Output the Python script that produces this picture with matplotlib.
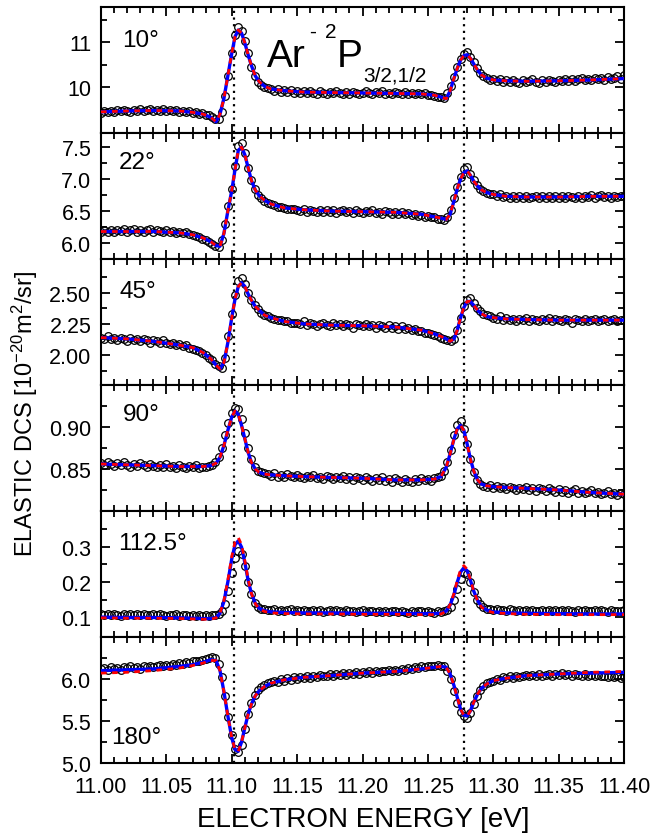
import numpy as np
import matplotlib
matplotlib.use("Agg")
import matplotlib.pyplot as plt
from matplotlib.ticker import FixedLocator, FormatStrFormatter

plt.rcParams['font.family'] = ['Liberation Sans', 'DejaVu Sans']
plt.rcParams['mathtext.fontset'] = 'custom'
plt.rcParams['mathtext.rm'] = 'Liberation Sans'
plt.rcParams['mathtext.it'] = 'Liberation Sans:italic'
plt.rcParams['mathtext.bf'] = 'Liberation Sans:bold'

# ---------------- data ----------------
energy = np.linspace(11.0, 11.4, 161)          # measurement grid [eV], 2.5 meV step
resonance_e = [11.1017, 11.2776]

angles = ["10°", "22°", "45°", "90°", "112.5°", "180°"]

dcs_10 = [
    9.43, 9.47, 9.44, 9.48, 9.45, 9.49, 9.46, 9.50, 9.47, 9.45, 9.50, 9.47, 9.51, 9.46, 9.49, 9.52, 9.47, 9.50, 9.48, 9.51,
    9.46, 9.50, 9.47, 9.49, 9.45, 9.48, 9.44, 9.47, 9.43, 9.45, 9.41, 9.43, 9.39, 9.37, 9.33, 9.30, 9.29, 9.45, 9.80, 10.25,
    10.75, 11.15, 11.34, 11.25, 11.02, 10.75, 10.45, 10.25, 10.12, 10.05, 10.00, 9.97, 9.95, 9.92, 9.95, 9.90, 9.93, 9.89, 9.93, 9.88,
    9.92, 9.87, 9.91, 9.86, 9.92, 9.88, 9.85, 9.91, 9.87, 9.84, 9.90, 9.86, 9.91, 9.87, 9.84, 9.89, 9.85, 9.90, 9.88, 9.84,
    9.88, 9.91, 9.86, 9.84, 9.90, 9.86, 9.91, 9.85, 9.88, 9.84, 9.90, 9.86, 9.84, 9.89, 9.85, 9.87, 9.84, 9.88, 9.84, 9.86,
    9.83, 9.82, 9.80, 9.79, 9.77, 9.76, 9.88, 10.03, 10.22, 10.44, 10.62, 10.74, 10.78, 10.68, 10.55, 10.42, 10.31, 10.24, 10.20, 10.16,
    10.18, 10.14, 10.17, 10.12, 10.15, 10.11, 10.16, 10.12, 10.10, 10.15, 10.11, 10.14, 10.17, 10.12, 10.10, 10.15, 10.12, 10.16, 10.13, 10.11,
    10.16, 10.13, 10.17, 10.14, 10.18, 10.13, 10.17, 10.20, 10.15, 10.19, 10.16, 10.20, 10.17, 10.21, 10.16, 10.22, 10.18, 10.21, 10.24, 10.19,
    10.26]

dcs_22 = [
    6.17, 6.21, 6.18, 6.20, 6.17, 6.21, 6.19, 6.22, 6.18, 6.20, 6.22, 6.18, 6.21, 6.17, 6.20, 6.22, 6.18, 6.21, 6.19, 6.17,
    6.20, 6.17, 6.19, 6.16, 6.18, 6.15, 6.17, 6.14, 6.13, 6.11, 6.09, 6.07, 6.04, 6.01, 5.98, 5.96, 5.94, 6.05, 6.30, 6.58,
    6.85, 7.20, 7.52, 7.57, 7.40, 7.18, 6.98, 6.84, 6.75, 6.70, 6.66, 6.63, 6.61, 6.59, 6.57, 6.56, 6.55, 6.54, 6.53, 6.53,
    6.52, 6.50, 6.53, 6.49, 6.52, 6.50, 6.48, 6.52, 6.49, 6.51, 6.48, 6.51, 6.47, 6.50, 6.52, 6.48, 6.50, 6.47, 6.51, 6.49,
    6.47, 6.50, 6.48, 6.51, 6.47, 6.49, 6.46, 6.50, 6.48, 6.46, 6.49, 6.46, 6.48, 6.45, 6.47, 6.44, 6.46, 6.43, 6.44, 6.41,
    6.42, 6.40, 6.41, 6.38, 6.38, 6.36, 6.40, 6.52, 6.70, 6.88, 7.04, 7.15, 7.19, 7.08, 6.98, 6.90, 6.85, 6.81, 6.79, 6.77,
    6.76, 6.74, 6.76, 6.72, 6.74, 6.71, 6.73, 6.70, 6.73, 6.71, 6.74, 6.70, 6.72, 6.74, 6.70, 6.73, 6.71, 6.74, 6.71, 6.73,
    6.70, 6.73, 6.71, 6.74, 6.72, 6.70, 6.73, 6.71, 6.74, 6.72, 6.75, 6.71, 6.73, 6.75, 6.72, 6.74, 6.71, 6.74, 6.72, 6.74,
    6.73]

dcs_45 = [
    2.14, 2.13, 2.15, 2.13, 2.14, 2.12, 2.14, 2.13, 2.11, 2.14, 2.12, 2.13, 2.11, 2.13, 2.12, 2.10, 2.12, 2.11, 2.10, 2.12,
    2.10, 2.09, 2.10, 2.08, 2.09, 2.07, 2.08, 2.06, 2.05, 2.04, 2.03, 2.02, 2.00, 1.98, 1.96, 1.93, 1.91, 1.90, 1.98, 2.15,
    2.33, 2.48, 2.59, 2.62, 2.57, 2.50, 2.44, 2.40, 2.37, 2.34, 2.32, 2.31, 2.30, 2.29, 2.28, 2.28, 2.27, 2.27, 2.26, 2.26,
    2.26, 2.25, 2.27, 2.24, 2.26, 2.25, 2.23, 2.25, 2.26, 2.24, 2.23, 2.26, 2.24, 2.25, 2.23, 2.25, 2.24, 2.22, 2.25, 2.24,
    2.23, 2.25, 2.23, 2.24, 2.22, 2.24, 2.23, 2.22, 2.24, 2.22, 2.23, 2.21, 2.23, 2.21, 2.22, 2.20, 2.21, 2.19, 2.19, 2.18,
    2.18, 2.17, 2.16, 2.15, 2.14, 2.13, 2.12, 2.11, 2.13, 2.20, 2.30, 2.39, 2.44, 2.46, 2.42, 2.38, 2.35, 2.33, 2.32, 2.31,
    2.30, 2.29, 2.31, 2.28, 2.30, 2.28, 2.29, 2.27, 2.29, 2.28, 2.30, 2.27, 2.29, 2.28, 2.27, 2.29, 2.28, 2.30, 2.27, 2.29,
    2.28, 2.27, 2.29, 2.28, 2.26, 2.29, 2.28, 2.27, 2.29, 2.27, 2.28, 2.29, 2.27, 2.28, 2.29, 2.27, 2.28, 2.29, 2.27, 2.28,
    2.28]

dcs_90 = [
    0.857, 0.855, 0.858, 0.856, 0.854, 0.857, 0.855, 0.858, 0.855, 0.853, 0.856, 0.854, 0.857, 0.855, 0.853, 0.856, 0.854, 0.852, 0.855, 0.853,
    0.856, 0.852, 0.854, 0.851, 0.855, 0.853, 0.851, 0.854, 0.852, 0.855, 0.851, 0.853, 0.852, 0.854, 0.855, 0.858, 0.864, 0.875, 0.890, 0.905,
    0.917, 0.923, 0.921, 0.910, 0.893, 0.875, 0.862, 0.853, 0.848, 0.846, 0.845, 0.844, 0.842, 0.845, 0.841, 0.843, 0.840, 0.844, 0.842, 0.840,
    0.843, 0.841, 0.839, 0.842, 0.840, 0.843, 0.839, 0.841, 0.838, 0.842, 0.840, 0.838, 0.841, 0.839, 0.842, 0.838, 0.840, 0.837, 0.841, 0.839,
    0.837, 0.840, 0.838, 0.836, 0.839, 0.837, 0.840, 0.836, 0.838, 0.835, 0.839, 0.837, 0.835, 0.838, 0.836, 0.834, 0.838, 0.836, 0.839, 0.837,
    0.838, 0.836, 0.839, 0.840, 0.842, 0.848, 0.858, 0.873, 0.890, 0.902, 0.907, 0.898, 0.880, 0.862, 0.847, 0.837, 0.832, 0.830, 0.829, 0.831,
    0.828, 0.830, 0.827, 0.829, 0.826, 0.829, 0.827, 0.825, 0.828, 0.826, 0.829, 0.825, 0.827, 0.824, 0.828, 0.826, 0.824, 0.827, 0.825, 0.823,
    0.826, 0.823, 0.825, 0.822, 0.824, 0.826, 0.822, 0.824, 0.821, 0.823, 0.825, 0.821, 0.823, 0.820, 0.822, 0.824, 0.820, 0.822, 0.819, 0.821,
    0.820]

dcs_112 = [
    0.109, 0.106, 0.110, 0.107, 0.111, 0.108, 0.105, 0.109, 0.107, 0.110, 0.106, 0.109, 0.107, 0.110, 0.106, 0.108, 0.110, 0.106, 0.109, 0.107,
    0.105, 0.108, 0.106, 0.109, 0.105, 0.108, 0.106, 0.104, 0.107, 0.105, 0.108, 0.104, 0.106, 0.105, 0.106, 0.107, 0.109, 0.118, 0.138, 0.175,
    0.225, 0.268, 0.288, 0.278, 0.245, 0.200, 0.165, 0.142, 0.130, 0.125, 0.123, 0.122, 0.120, 0.123, 0.119, 0.122, 0.118, 0.121, 0.123, 0.119,
    0.121, 0.118, 0.122, 0.119, 0.117, 0.121, 0.118, 0.120, 0.116, 0.119, 0.121, 0.117, 0.120, 0.118, 0.116, 0.120, 0.117, 0.119, 0.116, 0.118,
    0.120, 0.116, 0.119, 0.117, 0.115, 0.119, 0.116, 0.118, 0.115, 0.117, 0.119, 0.115, 0.118, 0.116, 0.114, 0.118, 0.115, 0.117, 0.119, 0.115,
    0.117, 0.115, 0.114, 0.117, 0.115, 0.117, 0.120, 0.130, 0.150, 0.180, 0.208, 0.224, 0.222, 0.200, 0.172, 0.150, 0.137, 0.129, 0.125, 0.123,
    0.121, 0.124, 0.120, 0.122, 0.119, 0.123, 0.120, 0.118, 0.122, 0.119, 0.121, 0.118, 0.122, 0.119, 0.117, 0.121, 0.118, 0.120, 0.117, 0.121,
    0.118, 0.120, 0.117, 0.121, 0.119, 0.116, 0.120, 0.118, 0.121, 0.117, 0.119, 0.121, 0.117, 0.120, 0.118, 0.116, 0.120, 0.117, 0.119, 0.118,
    0.120]

dcs_180 = [
    6.12, 6.13, 6.11, 6.14, 6.12, 6.13, 6.11, 6.14, 6.13, 6.15, 6.13, 6.14, 6.12, 6.15, 6.14, 6.16, 6.14, 6.15, 6.17, 6.15,
    6.17, 6.16, 6.18, 6.17, 6.19, 6.18, 6.20, 6.19, 6.21, 6.21, 6.22, 6.23, 6.24, 6.25, 6.26, 6.25, 6.18, 6.02, 5.80, 5.55,
    5.33, 5.17, 5.13, 5.22, 5.40, 5.58, 5.72, 5.81, 5.87, 5.91, 5.93, 5.95, 5.96, 5.98, 5.97, 6.00, 5.98, 6.01, 5.99, 6.02,
    6.00, 6.02, 6.01, 6.03, 6.01, 6.04, 6.02, 6.05, 6.03, 6.04, 6.06, 6.04, 6.06, 6.05, 6.07, 6.05, 6.07, 6.06, 6.08, 6.06,
    6.08, 6.07, 6.09, 6.07, 6.10, 6.08, 6.10, 6.09, 6.11, 6.09, 6.11, 6.10, 6.12, 6.11, 6.13, 6.12, 6.14, 6.13, 6.15, 6.14,
    6.15, 6.16, 6.15, 6.17, 6.16, 6.15, 6.10, 6.00, 5.86, 5.72, 5.61, 5.56, 5.54, 5.60, 5.70, 5.80, 5.87, 5.92, 5.95, 5.97,
    5.98, 6.00, 5.99, 6.02, 6.01, 6.03, 6.01, 6.04, 6.02, 6.04, 6.05, 6.03, 6.05, 6.04, 6.06, 6.04, 6.05, 6.06, 6.04, 6.06,
    6.05, 6.07, 6.05, 6.06, 6.04, 6.06, 6.05, 6.03, 6.06, 6.04, 6.05, 6.03, 6.05, 6.03, 6.04, 6.02, 6.04, 6.02, 6.03, 6.01,
    6.02]

# fit curves (blue solid / red dashed), sampled at these energies
fit_e = [11.000, 11.020, 11.040, 11.060, 11.070, 11.078, 11.084, 11.088, 11.091, 11.094,
         11.097, 11.100, 11.1025, 11.105, 11.1075, 11.110, 11.1125, 11.115, 11.118, 11.121,
         11.125, 11.130, 11.140, 11.155, 11.175, 11.200, 11.225, 11.245, 11.255, 11.260,
         11.264, 11.267, 11.270, 11.2725, 11.275, 11.2775, 11.280, 11.2825, 11.285, 11.288,
         11.291, 11.295, 11.300, 11.310, 11.325, 11.350, 11.375, 11.400]

fit_10 = [9.45, 9.47, 9.48, 9.47, 9.44, 9.40, 9.33, 9.23, 9.40, 9.75,
          10.25, 10.75, 11.12, 11.27, 11.20, 10.98, 10.72, 10.48, 10.25, 10.12,
          10.02, 9.96, 9.92, 9.89, 9.88, 9.87, 9.86, 9.85, 9.82, 9.78,
          9.74, 9.92, 10.20, 10.42, 10.60, 10.70, 10.72, 10.64, 10.52, 10.38,
          10.27, 10.20, 10.16, 10.14, 10.13, 10.14, 10.16, 10.19]
fit_22 = [6.18, 6.18, 6.18, 6.16, 6.13, 6.08, 6.02, 5.96, 5.95, 6.15,
          6.50, 6.82, 7.15, 7.45, 7.50, 7.38, 7.18, 6.98, 6.83, 6.74,
          6.67, 6.61, 6.55, 6.52, 6.50, 6.49, 6.48, 6.45, 6.41, 6.39,
          6.37, 6.45, 6.66, 6.85, 7.00, 7.10, 7.13, 7.06, 6.97, 6.89,
          6.83, 6.79, 6.76, 6.73, 6.72, 6.72, 6.73, 6.73]
fit_45 = [2.14, 2.13, 2.11, 2.08, 2.06, 2.02, 1.97, 1.92, 1.89, 1.94,
          2.10, 2.30, 2.45, 2.55, 2.58, 2.55, 2.49, 2.44, 2.39, 2.36,
          2.32, 2.30, 2.27, 2.25, 2.24, 2.235, 2.225, 2.20, 2.17, 2.15,
          2.13, 2.11, 2.13, 2.20, 2.30, 2.38, 2.43, 2.43, 2.40, 2.36,
          2.33, 2.31, 2.30, 2.29, 2.285, 2.28, 2.28, 2.28]
fit_90 = [0.856, 0.855, 0.854, 0.853, 0.853, 0.853, 0.854, 0.857, 0.864, 0.878,
          0.896, 0.912, 0.919, 0.915, 0.902, 0.886, 0.870, 0.858, 0.850, 0.846,
          0.844, 0.843, 0.842, 0.841, 0.840, 0.839, 0.837, 0.837, 0.838, 0.841,
          0.852, 0.868, 0.886, 0.898, 0.902, 0.896, 0.880, 0.862, 0.848, 0.837,
          0.832, 0.830, 0.829, 0.828, 0.827, 0.825, 0.822, 0.820]
fit_112_blue = [0.101, 0.100, 0.100, 0.099, 0.098, 0.097, 0.097, 0.100, 0.112, 0.145,
                0.200, 0.265, 0.305, 0.316, 0.298, 0.255, 0.205, 0.168, 0.140, 0.126,
                0.119, 0.116, 0.114, 0.113, 0.113, 0.112, 0.112, 0.111, 0.111, 0.112,
                0.118, 0.135, 0.165, 0.200, 0.228, 0.240, 0.232, 0.205, 0.175, 0.148,
                0.131, 0.121, 0.116, 0.113, 0.112, 0.111, 0.110, 0.110]
fit_112_red = [0.099, 0.098, 0.098, 0.097, 0.096, 0.095, 0.095, 0.099, 0.112, 0.148,
               0.205, 0.272, 0.313, 0.325, 0.305, 0.260, 0.208, 0.168, 0.139, 0.124,
               0.117, 0.113, 0.111, 0.110, 0.110, 0.109, 0.109, 0.108, 0.108, 0.110,
               0.117, 0.136, 0.168, 0.205, 0.234, 0.246, 0.236, 0.207, 0.175, 0.147,
               0.129, 0.119, 0.114, 0.111, 0.109, 0.108, 0.108, 0.108]
fit_180_blue = [6.10, 6.11, 6.12, 6.15, 6.17, 6.20, 6.23, 6.22, 6.10, 5.85,
                5.56, 5.30, 5.16, 5.14, 5.25, 5.42, 5.58, 5.70, 5.80, 5.86,
                5.91, 5.95, 5.99, 6.02, 6.04, 6.07, 6.09, 6.12, 6.14, 6.15,
                6.14, 6.06, 5.92, 5.78, 5.64, 5.57, 5.56, 5.62, 5.72, 5.82,
                5.89, 5.94, 5.98, 6.01, 6.04, 6.06, 6.07, 6.08]
fit_180_red = [6.07, 6.08, 6.10, 6.13, 6.16, 6.19, 6.22, 6.22, 6.10, 5.85,
               5.56, 5.30, 5.16, 5.14, 5.25, 5.42, 5.58, 5.70, 5.80, 5.86,
               5.91, 5.95, 5.99, 6.02, 6.04, 6.07, 6.09, 6.12, 6.14, 6.15,
               6.14, 6.06, 5.92, 5.78, 5.64, 5.57, 5.56, 5.62, 5.72, 5.82,
               5.89, 5.94, 5.98, 6.01, 6.04, 6.06, 6.08, 6.09]

data_sets = [dcs_10, dcs_22, dcs_45, dcs_90, dcs_112, dcs_180]
blue_fits = [fit_10, fit_22, fit_45, fit_90, fit_112_blue, fit_180_blue]
red_fits = [fit_10, fit_22, fit_45, fit_90, fit_112_red, fit_180_red]

ylims = [(8.98, 11.78), (5.75, 7.72), (1.76, 2.77), (0.80, 0.95), (0.045, 0.40), (5.0, 6.5)]
major_ticks = [[10, 11], [6.0, 6.5, 7.0, 7.5], [2.00, 2.25, 2.50], [0.85, 0.90], [0.1, 0.2, 0.3], [5.0, 5.5, 6.0]]
minor_ticks = [[9.5, 10.5, 11.5], [5.75, 6.25, 6.75, 7.25], [1.875, 2.125, 2.375, 2.625],
               [0.825, 0.875, 0.925], [0.15, 0.25, 0.35], [5.25, 5.75, 6.25]]
tick_fmt = ['%d', '%.1f', '%.2f', '%.2f', '%.1f', '%.1f']
x_major = [11.00, 11.05, 11.10, 11.15, 11.20, 11.25, 11.30, 11.35, 11.40]

# ---------------- figure ----------------
fig = plt.figure(figsize=(6.62, 8.37), dpi=100)
gs = fig.add_gridspec(6, 1, left=0.1526, right=0.9426, top=0.9904, bottom=0.0872, hspace=0)
axes = [fig.add_subplot(gs[i]) for i in range(6)]
for a in axes[1:]:
    a.sharex(axes[0])

label_pos = [(0.040, 0.74), (0.034, 0.77), (0.036, 0.75), (0.042, 0.77), (0.032, 0.75), (0.020, 0.21)]

for i, ax in enumerate(axes):
    ax.plot(energy, data_sets[i], linestyle='none', marker='o', ms=5.5, mfc='none',
            mec='black', mew=0.9, zorder=2)
    ax.plot(fit_e, blue_fits[i], color='#0000ff', lw=2.4, zorder=3)
    ax.plot(fit_e, red_fits[i], color='#ff0000', lw=2.0, dashes=(2, 2), zorder=4)
    for e in resonance_e:
        ax.axvline(e, color='black', lw=1.6, linestyle=(0, (1, 2)), zorder=1)
    ax.set_xlim(11.0, 11.4)
    ax.set_ylim(*ylims[i])
    ax.yaxis.set_major_locator(FixedLocator(major_ticks[i]))
    ax.yaxis.set_minor_locator(FixedLocator(minor_ticks[i]))
    ax.yaxis.set_major_formatter(FormatStrFormatter(tick_fmt[i]))
    ax.xaxis.set_major_locator(FixedLocator(x_major))
    ax.xaxis.set_minor_locator(FixedLocator([round(11.0 + 0.01 * k, 2) for k in range(41)]))
    ax.xaxis.set_major_formatter(FormatStrFormatter('%.2f'))
    ax.tick_params(which='both', direction='in', top=True, right=True, width=1.3, labelsize=15.5)
    ax.tick_params(axis='y', pad=7)
    ax.tick_params(axis='x', pad=9)
    ax.tick_params(which='major', length=6.5)
    ax.tick_params(which='minor', length=4)
    for s in ax.spines.values():
        s.set_linewidth(1.5)
    if i < 5:
        ax.tick_params(axis='x', labelbottom=False)
    ax.text(label_pos[i][0], label_pos[i][1], angles[i], transform=ax.transAxes,
            fontsize=17.5, ha='left', va='center')

# title in top panel
ax0 = axes[0]
ax0.text(0.317, 0.532, "Ar", transform=ax0.transAxes, fontsize=28, ha='left', va='baseline')
ax0.text(0.397, 0.81, "-", transform=ax0.transAxes, fontsize=15, ha='left', va='center')
ax0.text(0.428, 0.762, "2", transform=ax0.transAxes, fontsize=15, ha='left', va='baseline')
ax0.text(0.451, 0.532, "P", transform=ax0.transAxes, fontsize=28, ha='left', va='baseline')
ax0.text(0.501, 0.413, "3/2,1/2", transform=ax0.transAxes, fontsize=15, ha='left', va='baseline')

fig.text(0.038, 0.505, r"ELASTIC DCS [10$^{-20}$m$^{2}$/sr]", rotation=90,
         ha='center', va='center', fontsize=17)
fig.text(0.548, 0.020, "ELECTRON ENERGY [eV]", ha='center', va='center', fontsize=20)

fig.savefig("out.png", dpi=100)
